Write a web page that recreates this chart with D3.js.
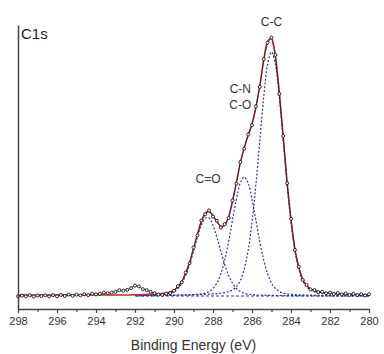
<!DOCTYPE html>
<html>
<head>
<meta charset="utf-8">
<script src="https://cdn.jsdelivr.net/npm/d3@7"></script>
<style>
  body { margin: 0; background: #fff; }
  svg { display: block; font-family: "Liberation Sans", Arial, sans-serif; }
</style>
</head>
<body>
<div id="chart"></div>
<script>
// binding energy grid (eV), 0.2 eV steps
const energy = [
  280.0, 280.2, 280.4, 280.6, 280.8, 281.0, 281.2, 281.4, 281.6, 281.8,
  282.0, 282.2, 282.4, 282.6, 282.8, 283.0, 283.2, 283.4, 283.6, 283.8,
  284.0, 284.2, 284.4, 284.6, 284.8, 285.0, 285.2, 285.4, 285.6, 285.8,
  286.0, 286.2, 286.4, 286.6, 286.8, 287.0, 287.2, 287.4, 287.6, 287.8,
  288.0, 288.2, 288.4, 288.6, 288.8, 289.0, 289.2, 289.4, 289.6, 289.8,
  290.0, 290.2, 290.4, 290.6, 290.8, 291.0, 291.2, 291.4, 291.6, 291.8,
  292.0, 292.2, 292.4, 292.6, 292.8, 293.0, 293.2, 293.4, 293.6, 293.8,
  294.0, 294.2, 294.4, 294.6, 294.8, 295.0, 295.2, 295.4, 295.6, 295.8,
  296.0, 296.2, 296.4, 296.6, 296.8, 297.0, 297.2, 297.4, 297.6, 297.8,
  298.0
];

// measured counts (a.u.)
const counts = [
  14.8, 13.6, 14.9, 13.9, 15.2, 14.1, 15.6, 14.6, 15.9, 15.1,
  16.4, 15.7, 17.2, 16.8, 18.9, 19.6, 24.1, 29.0, 42.3, 59.1,
  90.2, 125.8, 173.0, 215.2, 254.1, 271.5, 266.3, 249.7, 222.1, 202.6,
  183.8, 174.5, 160.2, 147.0, 125.3, 108.6, 91.0, 84.8, 81.5, 88.3,
  92.4, 98.6, 94.7, 88.5, 73.6, 61.4, 45.8, 36.5, 26.7, 22.9,
  18.2, 16.0, 15.3, 14.2, 14.6, 15.8, 17.1, 18.9, 19.8, 22.6,
  23.4, 20.9, 19.2, 18.3, 18.8, 17.1, 16.5, 15.9, 16.4, 15.2,
  14.6, 15.3, 13.9, 14.8, 13.6, 14.4, 13.2, 14.5, 13.1, 14.0,
  12.8, 13.9, 12.6, 13.7, 12.9, 13.5, 12.4, 13.8, 12.7, 13.3,
  12.6
];

// fit envelope (red)
const envelope = [
  14.2, 14.3, 14.3, 14.4, 14.5, 14.7, 14.9, 15.0, 15.3, 15.5,
  15.8, 16.1, 16.6, 17.3, 18.3, 20.1, 23.4, 29.7, 41.2, 60.2,
  88.8, 126.9, 171.8, 216.8, 252.7, 270.6, 267.5, 248.5, 223.6, 201.3,
  185.0, 173.3, 161.4, 145.8, 126.6, 107.5, 92.2, 83.7, 82.7, 87.1,
  93.4, 97.4, 95.6, 87.4, 74.8, 60.3, 46.7, 35.7, 27.6, 22.2,
  18.9, 17.1, 16.1, 15.6, 15.2, 14.9, 14.8, 14.6, 14.4, 14.3,
  14.2, 14.1, 14.1, 14.1, 14.1, 14.0, 14.0, 14.0, 14.0, 14.0,
  14.0, 14.0, 14.0, 14.0, 14.0, 14.0, 14.0, 14.0, 14.0, 14.0,
  14.0, 14.0, 14.0, 14.0, 14.0, 14.0, 14.0, 14.0, 14.0, 14.0,
  14.0
];

// fitted components above background, on energy 280.0 .. 292.0
const peakCC = [
  0.8, 0.9, 0.95, 1.0, 1.1, 1.2, 1.4, 1.5, 1.7, 1.9,
  2.1, 2.4, 2.8, 3.4, 4.3, 6.0, 9.2, 15.4, 26.7, 45.5,
  73.7, 111.4, 155.4, 198.8, 231.6, 244.0, 231.6, 198.8, 155.4, 111.4,
  73.7, 45.5, 26.7, 15.4, 9.2, 6.0, 4.3, 3.4, 2.8, 2.4,
  2.1, 1.9, 1.7, 1.5, 1.4, 1.2, 1.1, 1.0, 0.95, 0.9,
  0.8, 0.75, 0.7, 0.65, 0.6, 0.55, 0.55, 0.5, 0.45, 0.45,
  0.4
];
const peakCN = [
  0.24, 0.26, 0.27, 0.3, 0.31, 0.33, 0.37, 0.39, 0.43, 0.46,
  0.5, 0.55, 0.61, 0.67, 0.74, 0.83, 0.93, 1.05, 1.2, 1.4,
  1.7, 2.1, 2.9, 4.5, 7.5, 13.0, 22.2, 35.9, 54.3, 75.8,
  96.9, 113.0, 119.0, 113.0, 96.9, 75.8, 54.3, 35.9, 22.2, 13.0,
  7.5, 4.5, 2.9, 2.1, 1.7, 1.4, 1.2, 1.05, 0.93, 0.83,
  0.74, 0.67, 0.61, 0.55, 0.5, 0.46, 0.43, 0.39, 0.37, 0.33,
  0.31
];
const peakCO = [
  0.11, 0.11, 0.12, 0.12, 0.13, 0.14, 0.14, 0.15, 0.16, 0.17,
  0.18, 0.19, 0.2, 0.22, 0.23, 0.25, 0.27, 0.29, 0.31, 0.34,
  0.37, 0.4, 0.45, 0.5, 0.55, 0.6, 0.7, 0.8, 0.9, 1.1,
  1.4, 1.8, 2.7, 4.4, 7.5, 12.7, 20.6, 31.4, 44.7, 58.7,
  70.8, 78.0, 78.0, 70.8, 58.7, 44.7, 31.4, 20.6, 12.7, 7.5,
  4.4, 2.7, 1.8, 1.4, 1.1, 0.9, 0.8, 0.7, 0.6, 0.55,
  0.5
];
const background = 13;

const xTicks = [298, 296, 294, 292, 290, 288, 286, 284, 282, 280];
const xMinorTicks = [297, 295, 293, 291, 289, 287, 285, 283, 281];

const peakLabels = [
  { lines: ['C-C'], e: 285.0, v: 283 },
  { lines: ['C-N', 'C-O'], e: 286.6, v: 216 },
  { lines: ['C=O'], e: 288.25, v: 126 }
];

const width = 384, height = 354;
const margin = { top: 25, right: 15, bottom: 45, left: 18 };

const svg = d3.select('#chart').append('svg')
  .attr('width', width)
  .attr('height', height);

const x = d3.scaleLinear()
  .domain([298, 280])
  .range([margin.left, width - margin.right]);

const y = d3.scaleLinear()
  .domain([0, 284])
  .range([height - margin.bottom, margin.top]);

const fitE = energy.slice(0, peakCC.length);

// components (blue dotted)
const smooth = d3.line()
  .x(d => x(d[0]))
  .y(d => y(d[1]))
  .curve(d3.curveCatmullRom.alpha(0.5));

[peakCC, peakCN, peakCO].forEach(p => {
  svg.append('path')
    .datum(fitE.map((e, i) => [e, p[i] + background]))
    .attr('d', smooth)
    .attr('fill', 'none')
    .attr('stroke', '#2a2fb0')
    .attr('stroke-width', 1.2)
    .attr('stroke-dasharray', '2,1.8');
});

// background line
svg.append('path')
  .datum([[fitE[0], background], [fitE[fitE.length - 1], background]])
  .attr('d', smooth)
  .attr('fill', 'none')
  .attr('stroke', '#2a2fb0')
  .attr('stroke-width', 1.2)
  .attr('stroke-dasharray', '3,2');

// envelope
svg.append('path')
  .datum(energy.map((e, i) => [e, envelope[i]]))
  .attr('d', smooth)
  .attr('fill', 'none')
  .attr('stroke', '#c62a30')
  .attr('stroke-width', 1.5);

// raw data
const raw = energy.map((e, i) => [e, counts[i]]);
svg.append('path')
  .datum(raw)
  .attr('d', d3.line().x(d => x(d[0])).y(d => y(d[1])))
  .attr('fill', 'none')
  .attr('stroke', '#1a1a1a')
  .attr('stroke-width', 0.7);

svg.append('g').selectAll('circle')
  .data(raw)
  .enter().append('circle')
  .attr('cx', d => x(d[0]))
  .attr('cy', d => y(d[1]))
  .attr('r', 1.5)
  .attr('fill', '#fff')
  .attr('stroke', '#111')
  .attr('stroke-width', 0.9);

// axes
const xAxis = svg.append('g')
  .attr('transform', 'translate(0,' + y(0) + ')')
  .call(d3.axisBottom(x).tickValues(xTicks).tickSize(4).tickSizeOuter(0).tickPadding(4).tickFormat(d3.format('d')));
xAxis.select('.domain').attr('stroke', '#444').attr('stroke-width', 1.5);
xAxis.selectAll('.tick line').attr('stroke', '#444').attr('stroke-width', 1.2);
xAxis.selectAll('text').attr('fill', '#333').style('font-size', '11px');

const xMinor = svg.append('g')
  .attr('transform', 'translate(0,' + y(0) + ')')
  .call(d3.axisBottom(x).tickValues(xMinorTicks).tickSize(3).tickSizeOuter(0).tickFormat(''));
xMinor.select('.domain').remove();
xMinor.selectAll('.tick line').attr('stroke', '#444').attr('stroke-width', 1.2);

const yAxis = svg.append('g')
  .attr('transform', 'translate(' + margin.left + ',0)')
  .call(d3.axisLeft(y).tickValues([]).tickSizeOuter(0));
yAxis.select('.domain').attr('stroke', '#444').attr('stroke-width', 1.5);

// titles
svg.append('text')
  .attr('x', (margin.left + width - margin.right) / 2)
  .attr('y', 350)
  .attr('text-anchor', 'middle')
  .attr('fill', '#333')
  .style('font-size', '14px')
  .text('Binding Energy (eV)');

svg.append('text')
  .attr('x', margin.left + 3)
  .attr('y', 39)
  .attr('fill', '#222')
  .style('font-size', '15px')
  .text('C1s');

peakLabels.forEach(l => {
  const t = svg.append('text')
    .attr('text-anchor', 'middle')
    .attr('fill', '#333')
    .style('font-size', '12px');
  l.lines.forEach((s, i) => {
    t.append('tspan')
      .attr('x', x(l.e))
      .attr('y', y(l.v) + i * 16)
      .text(s);
  });
});
</script>
</body>
</html>
